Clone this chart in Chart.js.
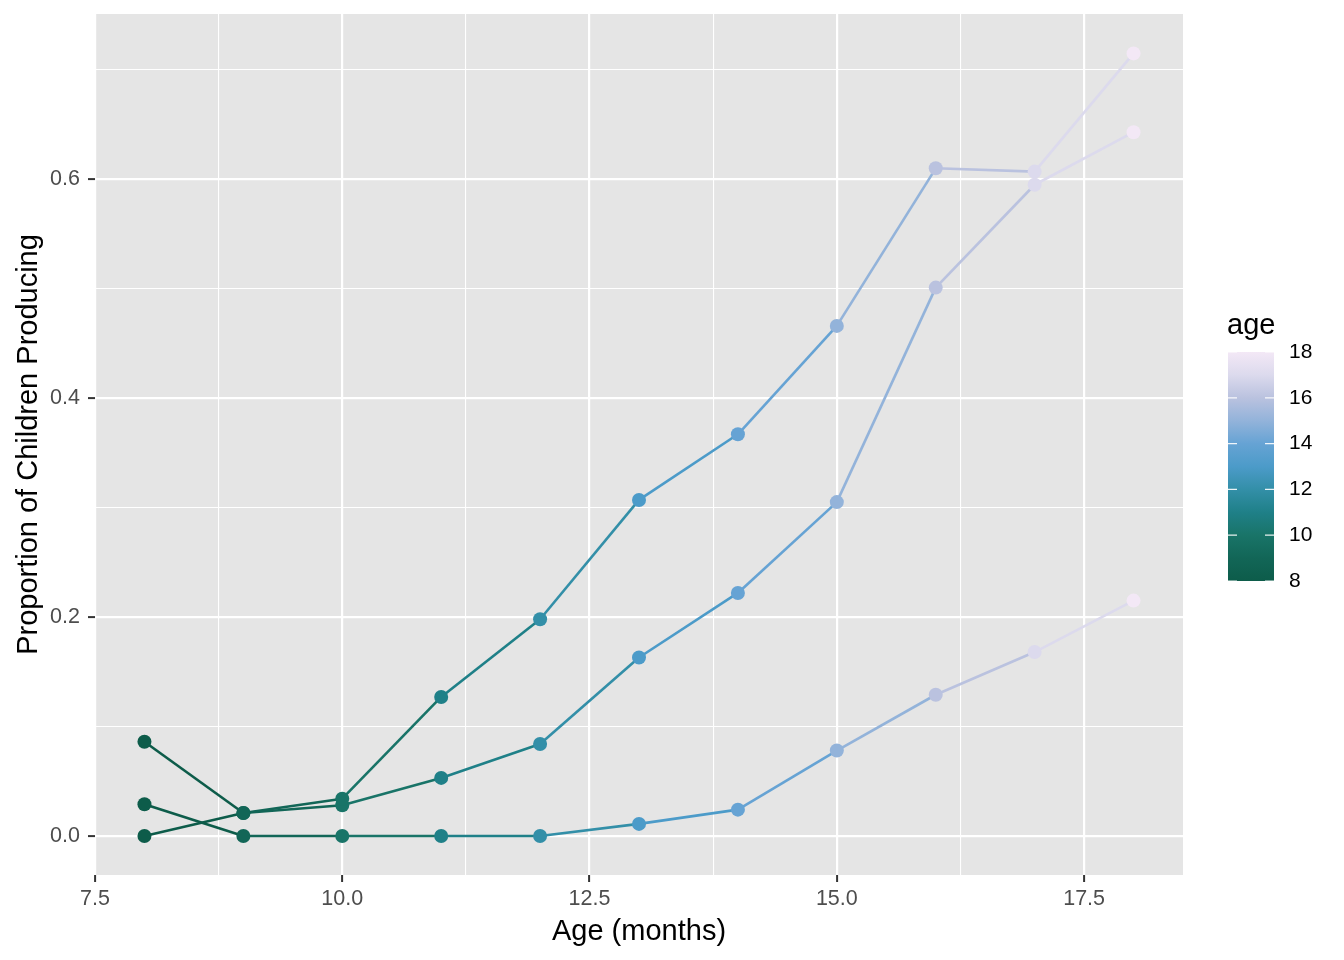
<!DOCTYPE html>
<html>
<head>
<meta charset="utf-8">
<script src="https://cdn.jsdelivr.net/npm/chart.js@4"></script>
<style>
    body { margin: 0; background: #ffffff; }
    canvas { display: block; }
</style>
</head>
<body>
<canvas id="chart" width="1344" height="960"></canvas>
<script>
// Data
const ages = [8, 9, 10, 11, 12, 13, 14, 15, 16, 17, 18];
const seriesA = [0.000, 0.021, 0.034, 0.127, 0.198, 0.307, 0.367, 0.466, 0.610, 0.607, 0.715];
const seriesB = [0.086, 0.021, 0.028, 0.053, 0.084, 0.163, 0.222, 0.305, 0.501, 0.595, 0.643];
const seriesC = [0.029, 0.000, 0.000, 0.000, 0.000, 0.011, 0.024, 0.078, 0.129, 0.168, 0.215];

const xTicks = [7.5, 8.75, 10, 11.25, 12.5, 13.75, 15, 16.25, 17.5];
const xMajor = [7.5, 10, 12.5, 15, 17.5];
const yTicks = [0, 0.1, 0.2, 0.3, 0.4, 0.5, 0.6, 0.7];
const yMajor = [0, 0.2, 0.4, 0.6];

// colour scale for age (dark green -> light lavender)
const colorStops = [
    [8, '#0d5c4a'], [9, '#126657'], [10, '#197468'], [11, '#1f8088'],
    [12, '#338fa8'], [13, '#4c9bc9'], [14, '#66a3d4'], [15, '#93b3da'],
    [16, '#bac2df'], [17, '#dcdaed'], [18, '#f3e8f6']
];
const legendTicks = [8, 10, 12, 14, 16, 18];

function hexToRgb(h) {
    return [parseInt(h.slice(1, 3), 16), parseInt(h.slice(3, 5), 16), parseInt(h.slice(5, 7), 16)];
}

function ageColor(v) {
    if (v <= colorStops[0][0]) return colorStops[0][1];
    for (let i = 1; i < colorStops.length; i++) {
        if (v <= colorStops[i][0]) {
            const [a0, c0] = colorStops[i - 1];
            const [a1, c1] = colorStops[i];
            const t = (v - a0) / (a1 - a0);
            const r0 = hexToRgb(c0), r1 = hexToRgb(c1);
            const rgb = r0.map((c, k) => Math.round(c + (r1[k] - c) * t));
            return `rgb(${rgb[0]}, ${rgb[1]}, ${rgb[2]})`;
        }
    }
    return colorStops[colorStops.length - 1][1];
}

function toPoints(values) {
    return ages.map((a, i) => ({ x: a, y: values[i] }));
}

function lineSet(values) {
    return {
        type: 'line',
        data: toPoints(values),
        borderWidth: 2.6,
        pointRadius: 0,
        tension: 0,
        order: 1,
        segment: {
            borderColor: ctx => ageColor(ctx.p0.parsed.x)
        }
    };
}

function pointSet(values) {
    return {
        type: 'scatter',
        data: toPoints(values),
        showLine: false,
        pointRadius: 7,
        pointBorderWidth: 0,
        pointBackgroundColor: ctx => ageColor(ctx.raw ? ctx.raw.x : 8),
        order: 0
    };
}

// grey panel background
const panelBackground = {
    id: 'panelBackground',
    beforeDraw(chart) {
        const { ctx, chartArea } = chart;
        ctx.save();
        ctx.fillStyle = '#e5e5e5';
        ctx.fillRect(chartArea.left, chartArea.top, chartArea.right - chartArea.left, chartArea.bottom - chartArea.top);
        ctx.restore();
    }
};

// colour bar legend
const colorBar = {
    id: 'colorBar',
    afterDraw(chart) {
        const ctx = chart.ctx;
        const left = 1228, width = 46, top = 352, bottom = 581;
        const min = 8, max = 18;
        ctx.save();
        ctx.fillStyle = '#000000';
        ctx.font = '29px "Liberation Sans", Arial, sans-serif';
        ctx.textBaseline = 'alphabetic';
        ctx.textAlign = 'left';
        ctx.fillText('age', 1227, 334);

        const grad = ctx.createLinearGradient(0, bottom, 0, top);
        colorStops.forEach(([a, c]) => grad.addColorStop((a - min) / (max - min), c));
        ctx.fillStyle = grad;
        ctx.fillRect(left, top, width, bottom - top);

        ctx.font = '21px "Liberation Sans", Arial, sans-serif';
        ctx.textBaseline = 'middle';
        legendTicks.forEach(v => {
            const y = bottom - (v - min) / (max - min) * (bottom - top);
            ctx.strokeStyle = 'rgba(255,255,255,0.9)';
            ctx.lineWidth = 1.2;
            ctx.beginPath();
            ctx.moveTo(left, y); ctx.lineTo(left + 9, y);
            ctx.moveTo(left + width - 9, y); ctx.lineTo(left + width, y);
            ctx.stroke();
            ctx.fillStyle = '#000000';
            ctx.fillText(String(v), 1289, y);
        });
        ctx.restore();
    }
};

const tickFont = { family: '"Liberation Sans", Arial, sans-serif', size: 21.5 };
const titleFont = { family: '"Liberation Sans", Arial, sans-serif', size: 29 };

new Chart(document.getElementById('chart'), {
    data: {
        datasets: [
            lineSet(seriesA), lineSet(seriesB), lineSet(seriesC),
            pointSet(seriesA), pointSet(seriesB), pointSet(seriesC)
        ]
    },
    options: {
        responsive: false,
        animation: false,
        layout: { padding: { top: 14, right: 161, bottom: 0, left: 0 } },
        plugins: {
            legend: { display: false },
            tooltip: { enabled: false }
        },
        scales: {
            x: {
                type: 'linear',
                min: 7.5,
                max: 18.5,
                afterBuildTicks: axis => { axis.ticks = xTicks.map(v => ({ value: v })); },
                afterFit: scale => {
                    scale.height = 85;
                    scale.paddingLeft = 0;
                    scale.paddingRight = 0;
                },
                border: { display: false },
                grid: {
                    color: '#ffffff',
                    lineWidth: ctx => xMajor.includes(ctx.tick.value) ? 2.2 : 1.1,
                    tickColor: ctx => xMajor.includes(ctx.tick.value) ? '#333333' : 'rgba(0,0,0,0)',
                    tickLength: 7,
                    tickWidth: 2
                },
                ticks: {
                    autoSkip: false,
                    maxRotation: 0,
                    padding: 4,
                    color: '#4d4d4d',
                    font: tickFont,
                    callback: v => xMajor.includes(v) ? v.toFixed(1) : ''
                },
                title: {
                    display: true,
                    text: 'Age (months)',
                    color: '#000000',
                    font: titleFont,
                    padding: { top: 0, bottom: 11 }
                }
            },
            y: {
                type: 'linear',
                min: -0.0357,
                max: 0.751,
                afterBuildTicks: axis => { axis.ticks = yTicks.map(v => ({ value: v })); },
                afterFit: scale => {
                    scale.width = 95;
                    scale.paddingTop = 0;
                    scale.paddingBottom = 0;
                },
                border: { display: false },
                grid: {
                    color: '#ffffff',
                    lineWidth: ctx => yMajor.includes(ctx.tick.value) ? 2.2 : 1.1,
                    tickColor: ctx => yMajor.includes(ctx.tick.value) ? '#333333' : 'rgba(0,0,0,0)',
                    tickLength: 7,
                    tickWidth: 2
                },
                ticks: {
                    autoSkip: false,
                    padding: 8,
                    color: '#4d4d4d',
                    font: tickFont,
                    callback: v => yMajor.includes(v) ? v.toFixed(1) : ''
                },
                title: {
                    display: true,
                    text: 'Proportion of Children Producing',
                    color: '#000000',
                    font: titleFont,
                    padding: { top: 12, bottom: 0 }
                }
            }
        }
    },
    plugins: [panelBackground, colorBar]
});
</script>
</body>
</html>
